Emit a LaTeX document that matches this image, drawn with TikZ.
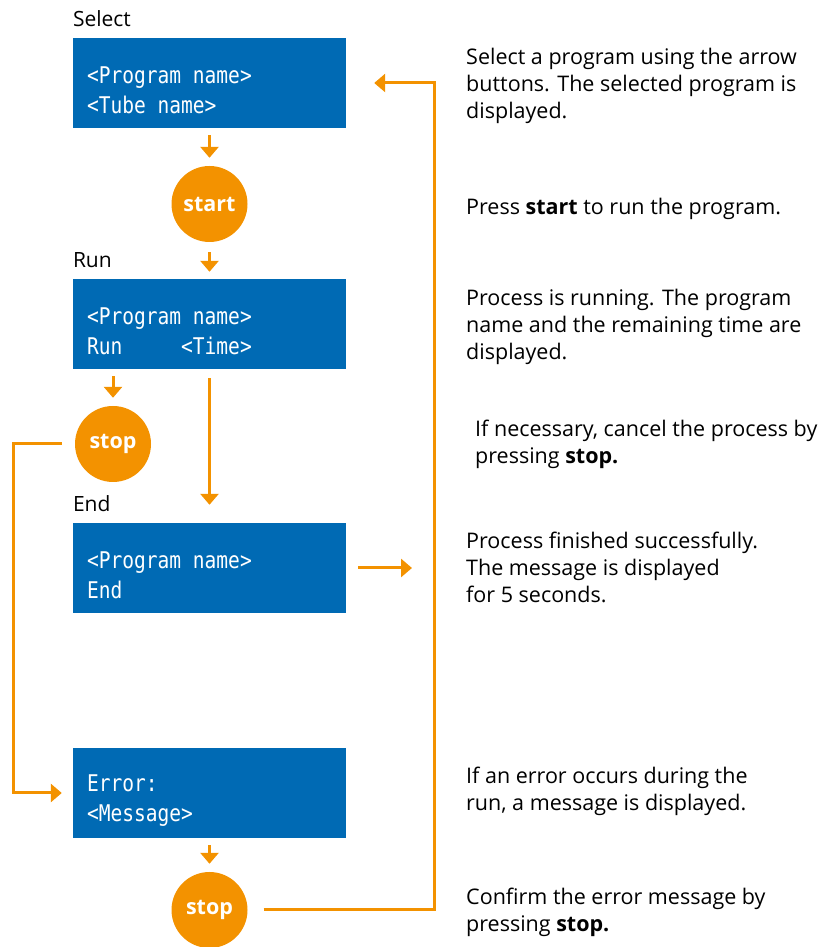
\documentclass[tikz,border=0pt]{standalone}
\usepackage{fontspec}
\setmainfont{Open Sans}
\newfontfamily\lcdfont[FakeStretch=0.85]{DejaVu Sans Mono}
\newcommand{\lsp}{\hphantom{x}}
\usepackage{tikz}
\usetikzlibrary{positioning,arrows.meta}
\definecolor{lcdblue}{RGB}{0,106,180}
\definecolor{btnorange}{RGB}{243,146,0}

\begin{document}
\begin{tikzpicture}[x=1pt, y=1pt, node distance=120pt,
  arr/.style={-{Triangle[width=18pt,length=11pt]}, draw=btnorange, line width=3pt},
  lcd/.style={fill=lcdblue, minimum width=273pt, minimum height=90pt, text width=245pt, inner xsep=14pt, align=left, text=white, font=\lcdfont\fontsize{23}{30}\selectfont, execute at begin node={\rule{0pt}{32pt}}},
  btn/.style={circle, fill=btnorange, minimum size=76pt, inner sep=0pt, text=white, font=\bfseries\fontsize{21.5}{24}\selectfont},
  lbl/.style={anchor=base west, inner sep=0pt, font=\fontsize{21}{27}\selectfont},
  desc/.style={anchor=west, inner sep=0pt, align=left, font=\fontsize{21.5}{27}\selectfont}]

  \useasboundingbox (0,0) rectangle (829,947);

  % Display states and keys
  \node[lcd] (sel) at (209.5,864) {<Program\lsp name>\\<Tube\lsp name>};
  \node[btn] (start) [below of=sel, node distance=121pt] {start};
  \node[lcd] (run) [below of=start] {<Program\lsp name>\\Run\lsp\lsp\lsp\lsp\lsp<Time>};
  \node[btn] (stop1) at (113,503) {stop};
  \node[lcd] (fin) [below of=run, node distance=244pt] {<Program\lsp name>\\End};
  \node[lcd] (err) [below of=fin, node distance=225pt] {Error:\\<Message>};
  \node[btn] (stop2) [below of=err, node distance=117pt] {stop};

  % Headings over the displays
  \node[lbl] at ([yshift=11pt]sel.north west) {Select};
  \node[lbl] at ([yshift=11pt]run.north west) {Run};
  \node[lbl] at ([yshift=11pt]fin.north west) {End};

  % Explanations
  \coordinate (descx) at (466,0);
  \node[desc] (dsel) at ([yshift=-3pt]sel -| descx) {Select a program using the arrow\\buttons. The selected program is\\displayed.};
  \node[desc] (dstart) at ([yshift=-5pt]start -| descx) {Press \textbf{start} to run the program.};
  \node[desc] (drun) at ([yshift=-3pt]run -| descx) {Process is running. The program\\name and the remaining time are\\displayed.};
  \node[desc] (dstop1) at ([xshift=9pt]stop1 -| descx) {If necessary, cancel the process by\\pressing \textbf{stop.}};
  \node[desc] (dfin) at ([yshift=1pt]fin -| descx) {Process finished successfully.\\The message is displayed\\for 5 seconds.};
  \node[desc] (derr) at ([yshift=2pt]err -| descx) {If an error occurs during the\\run, a message is displayed.};
  \node[desc] (dstop2) at ([yshift=-2pt]stop2 -| descx) {Confirm the error message by\\pressing \textbf{stop.}};

  % Corners of the return lines
  \coordinate (lft) at (13,154);
  \coordinate (rgt) at (434,864);
  \coordinate (finend) at (412,379);

  % Flow
  \draw[arr] ([yshift=-7pt]sel.south) -- ([yshift=8pt]start.north);
  \draw[arr] ([yshift=-10pt]start.south) -- ([yshift=7pt]run.north);
  \draw[arr] ([yshift=-7pt]run.south -| stop1) -- ([yshift=8pt]stop1.north);
  \draw[arr] ([yshift=-9pt]run.south) -- ([yshift=18pt]fin.north);
  \draw[arr] ([xshift=12pt]fin.east) -- (finend);
  \draw[arr] ([xshift=-13pt]stop1.west) -| (lft) -- ([xshift=-11pt]err.west);
  \draw[arr] ([yshift=-7pt]err.south) -- ([yshift=8pt]stop2.north);
  \draw[arr] ([xshift=16pt]stop2.east) -| (rgt) -- ([xshift=28pt]sel.east);
\end{tikzpicture}
\end{document}
